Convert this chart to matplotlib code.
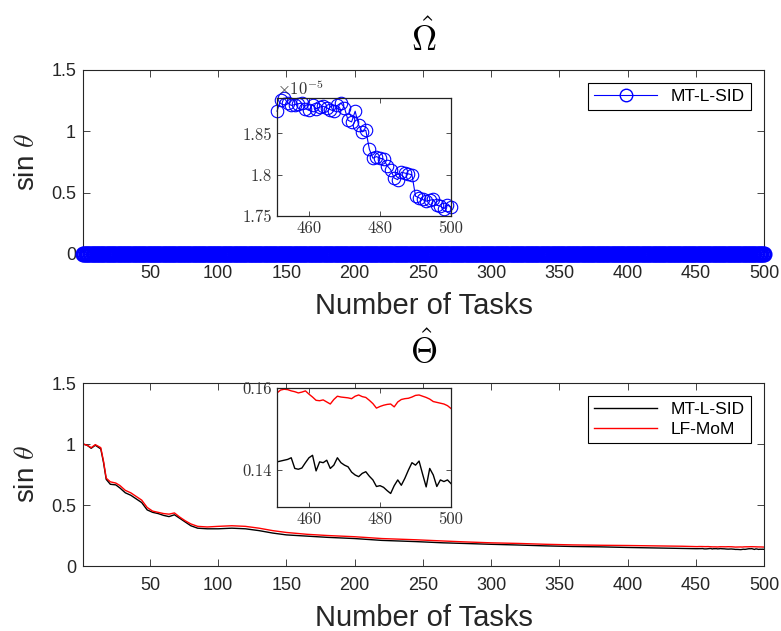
import numpy as np
import matplotlib
matplotlib.use("Agg")
from matplotlib import pyplot as plt
from matplotlib.ticker import FuncFormatter

# ---- data ----
# Omega-hat error: tasks 1..450 all sit on the zero line at this scale (~1.9e-5)
omega_head_tasks = list(range(1, 451))
omega_head = [1.9e-5] * 450

# last 50 tasks, values in units of 1e-5 (from the zoomed inset)
tail_tasks = list(range(451, 501))
omega_tail_e5 = [
    1.877, 1.890, 1.893, 1.887, 1.884, 1.885, 1.886, 1.887, 1.880, 1.878,
    1.885, 1.880, 1.882, 1.883, 1.881, 1.879, 1.877, 1.884, 1.887, 1.881,
    1.866, 1.864, 1.877, 1.860, 1.852, 1.854, 1.831, 1.820, 1.822, 1.820,
    1.819, 1.811, 1.806, 1.796, 1.794, 1.803, 1.802, 1.801, 1.800, 1.774,
    1.772, 1.770, 1.768, 1.769, 1.770, 1.763, 1.762, 1.759, 1.763, 1.761,
]

# Theta-hat error, first 450 tasks (sampled)
theta_head_tasks = [1, 4, 7, 10, 14, 16, 18, 21, 25, 28, 32, 36, 40, 44, 48,
                    52, 56, 60, 64, 68, 72, 76, 80, 85, 92, 100, 110, 120,
                    130, 140, 150, 165, 180, 200, 220, 245, 265, 280, 300,
                    320, 340, 360, 380, 400, 420, 440, 450]
mtlsid_head = [1.00, 0.99, 0.965, 0.99, 0.96, 0.85, 0.71, 0.67, 0.665, 0.64,
               0.60, 0.58, 0.55, 0.52, 0.46, 0.44, 0.43, 0.415, 0.405, 0.42,
               0.39, 0.36, 0.33, 0.31, 0.305, 0.305, 0.31, 0.305, 0.29, 0.27,
               0.255, 0.245, 0.235, 0.225, 0.21, 0.20, 0.19, 0.185, 0.178,
               0.172, 0.165, 0.16, 0.157, 0.152, 0.148, 0.144, 0.142]
lfmom_head = [1.00, 0.99, 0.97, 0.995, 0.97, 0.86, 0.72, 0.69, 0.68, 0.66,
              0.62, 0.60, 0.57, 0.54, 0.48, 0.45, 0.44, 0.43, 0.425, 0.435,
              0.40, 0.37, 0.345, 0.325, 0.32, 0.325, 0.33, 0.325, 0.31, 0.29,
              0.275, 0.26, 0.25, 0.24, 0.225, 0.215, 0.205, 0.198, 0.19,
              0.185, 0.178, 0.173, 0.17, 0.168, 0.165, 0.162, 0.159]

mtlsid_tail = [
    .1420, .1422, .1424, .1426, .1430, .1404, .1402, .1405, .1418, .1430,
    .1436, .1398, .1420, .1418, .1424, .1404, .1412, .1430, .1418, .1412,
    .1408, .1395, .1388, .1384, .1392, .1396, .1385, .1376, .1360, .1362,
    .1358, .1350, .1343, .1362, .1376, .1363, .1380, .1400, .1418, .1412,
    .1422, .1390, .1359, .1404, .1388, .1360, .1376, .1372, .1376, .1367,
]
lfmom_tail = [
    .1588, .1595, .1597, .1596, .1593, .1591, .1588, .1590, .1593, .1585,
    .1578, .1570, .1569, .1571, .1566, .1561, .1572, .1580, .1578, .1577,
    .1576, .1574, .1580, .1583, .1579, .1577, .1570, .1562, .1551, .1555,
    .1558, .1560, .1561, .1554, .1566, .1572, .1574, .1575, .1578, .1582,
    .1583, .1580, .1577, .1573, .1567, .1565, .1563, .1561, .1557, .1550,
]

GREY = "#262626"

plt.rcParams["font.family"] = ["Liberation Sans", "DejaVu Sans"]
plt.rcParams["mathtext.fontset"] = "cm"


def style_main(ax):
    ax.tick_params(direction="in", top=True, right=True, labelsize=13,
                   colors=GREY, length=5, width=0.6)
    ax.tick_params(axis="x", pad=8)
    ax.tick_params(axis="y", pad=5)
    for s in ax.spines.values():
        s.set_linewidth(0.8)
        s.set_color(GREY)
    ax.set_xlim(1, 500)
    ax.set_ylim(0, 1.5)
    ax.set_xticks(range(50, 501, 50))
    ax.set_yticks([0, 0.5, 1, 1.5])
    ax.set_yticklabels(["0", "0.5", "1", "1.5"])
    ax.set_xlabel("Number of Tasks", fontsize=21, color=GREY, labelpad=7)
    ax.set_ylabel(r"sin $\theta$", fontsize=20, color=GREY, labelpad=8)


def style_inset(ax):
    ax.tick_params(direction="in", top=True, right=True, labelsize=12,
                   colors="#333333", length=3.5, width=0.6,
                   labelfontfamily="cmr10")
    for s in ax.spines.values():
        s.set_linewidth(0.9)
        s.set_color("#222222")
    ax.set_xlim(451, 500)
    ax.set_xticks([460, 480, 500])


def add_legend(ax):
    leg = ax.legend(loc="upper right", fontsize=12.5, fancybox=False,
                    edgecolor="black", framealpha=1, handlelength=3.6,
                    borderaxespad=0.75, borderpad=0.35, labelspacing=0.25)
    leg.get_frame().set_linewidth(0.8)


fig = plt.figure(figsize=(7.81, 6.31), dpi=100)

omega_tasks = omega_head_tasks + tail_tasks
omega_tail = [v * 1e-5 for v in omega_tail_e5]
omega_vals = omega_head + omega_tail

# ---- top: Omega hat ----
ax1 = fig.add_axes([0.1063, 0.5975, 0.872, 0.2916])
ax1.plot(omega_tasks, omega_vals, "o-", color="blue", mfc="none", ms=10,
         lw=0.8, mew=1.6, clip_on=False, zorder=3)
# legend entry with a normal-weight marker
ax1.plot([], [], "o-", color="blue", mfc="none", ms=9, lw=0.8, mew=1.0,
         label="MT-L-SID")
style_main(ax1)
ax1.set_title(r"$\hat{\Omega}$", fontsize=25, pad=14)
add_legend(ax1)

in1 = fig.add_axes([0.3547, 0.6577, 0.2228, 0.187])
in1.plot(tail_tasks, omega_tail, "o-", color="blue", mfc="none", ms=9,
         lw=0.8, mew=0.8, clip_on=False)
style_inset(in1)
in1.set_ylim(1.75e-5, 1.893e-5)
in1.set_yticks([1.75e-5, 1.8e-5, 1.85e-5])
in1.yaxis.set_major_formatter(FuncFormatter(lambda v, _: f"{v * 1e5:g}"))
in1.text(0.0, 1.0, r"$\times 10^{-5}$", transform=in1.transAxes,
         fontsize=12, color="#333333", va="bottom", ha="left")

# ---- bottom: Theta hat ----
ax2 = fig.add_axes([0.1063, 0.103, 0.872, 0.290])
theta_tasks = theta_head_tasks + tail_tasks
ax2.plot(theta_tasks, mtlsid_head + mtlsid_tail, color="black", lw=1.0,
         label="MT-L-SID")
ax2.plot(theta_tasks, lfmom_head + lfmom_tail, color="red", lw=1.0,
         label="LF-MoM")
style_main(ax2)
ax2.set_title(r"$\hat{\Theta}$", fontsize=25, pad=14)
add_legend(ax2)

in2 = fig.add_axes([0.3547, 0.1965, 0.2228, 0.1886])
in2.plot(tail_tasks, mtlsid_tail, color="black", lw=1.0)
in2.plot(tail_tasks, lfmom_tail, color="red", lw=1.0)
style_inset(in2)
in2.set_ylim(0.131, 0.16)
in2.set_yticks([0.14, 0.16])
in2.yaxis.set_major_formatter(FuncFormatter(lambda v, _: f"{v:g}"))

fig.savefig("out.png", dpi=100)
